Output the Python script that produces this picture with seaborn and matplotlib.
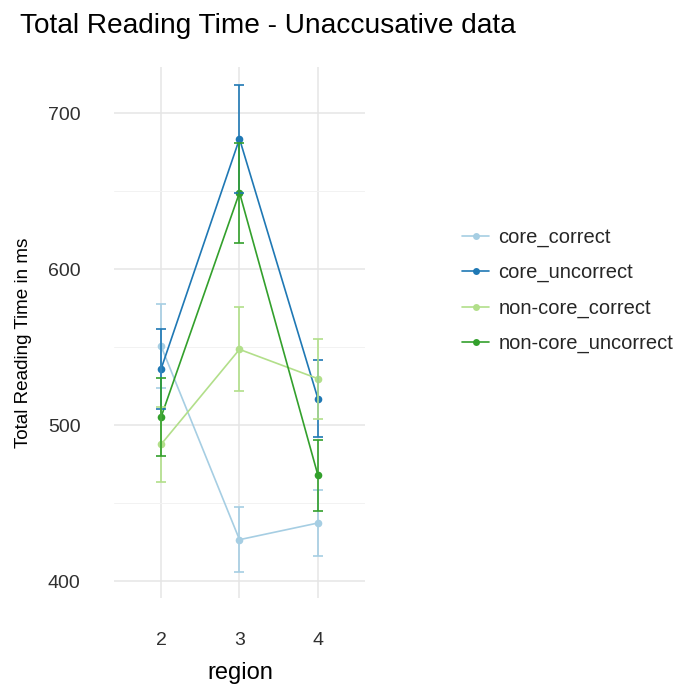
import matplotlib
matplotlib.use("Agg")
import matplotlib.pyplot as plt
import seaborn as sns
import pandas as pd
from matplotlib.ticker import MultipleLocator
from matplotlib.lines import Line2D

regions = [2, 3, 4]
conditions = ["core_correct", "core_uncorrect", "non-core_correct", "non-core_uncorrect"]
legend_labels = ["core_correct", "core_uncorrect", "non-core_correct", "non-core_uncorrect"]
means = {
    "core_correct":       [550.6, 426.5, 437.2],
    "core_uncorrect":     [535.9, 683.5, 516.9],
    "non-core_correct":   [487.6, 548.5, 529.7],
    "non-core_uncorrect": [505.1, 649.0, 467.8],
}
errors = {
    "core_correct":       [27.0, 21.0, 21.0],
    "core_uncorrect":     [25.5, 34.5, 24.6],
    "non-core_correct":   [24.0, 27.0, 25.6],
    "non-core_uncorrect": [25.0, 32.0, 22.7],
}
colors = ["#A6CEE3", "#1F78B4", "#B2DF8A", "#33A02C"]

rows = []
for c in conditions:
    for r, m, e in zip(regions, means[c], errors[c]):
        rows.append({"region": r, "rt": m, "se": e, "cond": c})
df = pd.DataFrame(rows)

sns.set_theme(style="whitegrid")
plt.rcParams["font.family"] = ["Liberation Sans", "DejaVu Sans"]

fig = plt.figure(figsize=(6.83, 6.84), dpi=100)
ax = fig.add_axes([0.1669, 0.1257, 0.3675, 0.7763])

palette = dict(zip(conditions, colors))
sns.lineplot(data=df, x="region", y="rt", hue="cond", hue_order=conditions,
             palette=palette, marker="o", markersize=5.5, markeredgewidth=0,
             linewidth=1.2, ax=ax, legend=False, errorbar=None)
for c in conditions:
    sub = df[df["cond"] == c]
    ax.errorbar(sub["region"], sub["rt"], yerr=sub["se"], fmt="none",
                ecolor=palette[c], elinewidth=1.2, capsize=3.4, capthick=1.2, zorder=3)

ax.set_xlim(1.4, 4.6)
ax.set_ylim(389.1, 729.5)
ax.set_xticks(regions)
ax.set_xticklabels([str(r) for r in regions])
ax.yaxis.set_major_locator(MultipleLocator(100))
ax.yaxis.set_minor_locator(MultipleLocator(50))
ax.set_facecolor("white")
for s in ax.spines.values():
    s.set_visible(False)
ax.grid(which="major", color="#E5E5E5", linewidth=1.1)
ax.grid(which="minor", axis="y", color="#F2F2F2", linewidth=0.7)
ax.tick_params(which="both", length=0, labelsize=14, labelcolor="#303030")
ax.tick_params(axis="x", pad=24.5)
ax.tick_params(axis="y", pad=24)
ax.set_xlabel("region", fontsize=17, color="black")
ax.set_ylabel("Total Reading Time in ms", fontsize=13.6, color="black")
ax.xaxis.set_label_coords(0.502, -0.12)
ax.yaxis.set_label_coords(-0.325, 0.481)

fig.text(20 / 683, 1 - 33 / 684, "Total Reading Time - Unaccusative data", fontsize=20.2,
         ha="left", va="baseline", color="black")

handles = [Line2D([0], [0], color=col, marker="o", markersize=5, linewidth=1.2,
                  markeredgewidth=0) for col in colors]
fig.legend(handles, legend_labels, loc="center left", bbox_to_anchor=(462 / 683, 1 - 290.5 / 684),
           frameon=False, fontsize=14.5, handlelength=1.35, labelspacing=0.8,
           handletextpad=0.45, borderpad=0, borderaxespad=0)

fig.savefig("out.png", dpi=100)
